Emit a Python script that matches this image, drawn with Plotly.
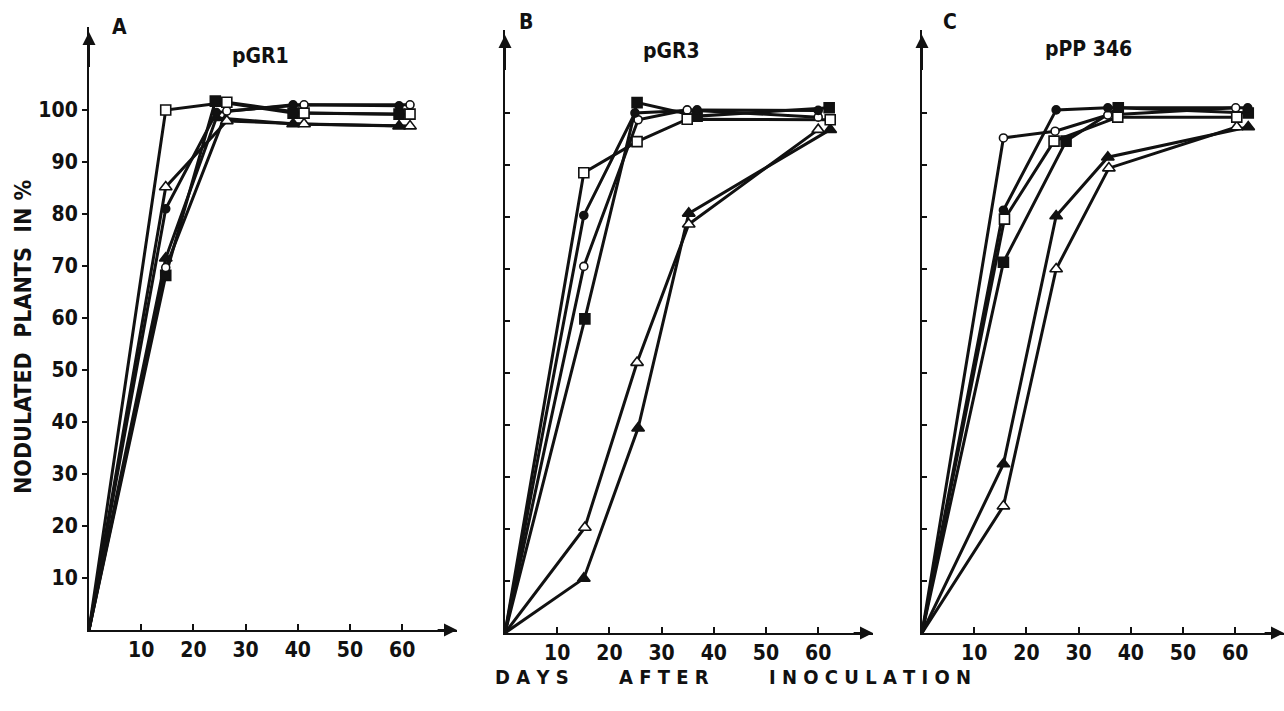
import plotly.graph_objects as go

# ---------------- data (days after inoculation, % nodulated plants) ----------------
# Panel A  (pGR1)
A_osq_x = [0, 14.7, 26.4, 41.2, 61.5]; A_osq_y = [0, 100, 101.5, 99.4, 99.2]
A_fsq_x = [0, 14.7, 24.2, 39.1, 59.4]; A_fsq_y = [0, 68.2, 101.7, 99.4, 99.2]
A_oci_x = [0, 14.7, 26.4, 41.2, 61.5]; A_oci_y = [0, 69.7, 99.8, 101.0, 101.0]
A_fci_x = [0, 14.7, 24.4, 39.1, 59.4]; A_fci_y = [0, 81.0, 99.5, 101.0, 100.8]
A_otr_x = [0, 14.7, 26.4, 41.2, 61.5]; A_otr_y = [0, 85.2, 97.9, 97.3, 96.9]
A_ftr_x = [0, 14.7, 24.4, 39.1, 59.4]; A_ftr_y = [0, 71.5, 98.5, 97.3, 96.9]

# Panel B  (pGR3)
B_osq_x = [0, 15.1, 25.3, 34.9, 62.3]; B_osq_y = [0, 88.5, 94.5, 98.8, 98.7]
B_fsq_x = [0, 15.3, 25.3, 36.8, 62.1]; B_fsq_y = [0, 60.4, 102.0, 99.4, 101.0]
B_oci_x = [0, 15.1, 25.5, 34.9, 60.0]; B_oci_y = [0, 70.5, 98.7, 100.6, 99.2]
B_fci_x = [0, 15.1, 24.9, 36.8, 60.0]; B_fci_y = [0, 80.3, 100.0, 100.6, 100.5]
B_otr_x = [0, 15.3, 25.3, 35.2, 60.0]; B_otr_y = [0, 20.3, 52.0, 78.6, 96.8]
B_ftr_x = [0, 15.1, 25.5, 35.2, 62.3]; B_ftr_y = [0, 10.5, 39.4, 80.7, 96.8]

# Panel C  (pPP 346)
C_osq_x = [0, 15.8, 25.3, 37.5, 60.3]; C_osq_y = [0, 79.6, 94.6, 99.2, 99.2]
C_fsq_x = [0, 15.6, 27.6, 37.6, 62.5]; C_fsq_y = [0, 71.3, 94.6, 101.0, 100.0]
C_oci_x = [0, 15.6, 25.5, 35.6, 60.1]; C_oci_y = [0, 95.2, 96.5, 99.6, 101.0]
C_fci_x = [0, 15.6, 25.7, 35.6, 62.4]; C_fci_y = [0, 81.3, 100.6, 101.0, 101.0]
C_otr_x = [0, 15.6, 25.7, 35.8, 60.3]; C_otr_y = [0, 24.4, 70.0, 89.4, 97.3]
C_ftr_x = [0, 15.6, 25.7, 35.6, 62.5]; C_ftr_y = [0, 32.5, 80.2, 91.5, 97.3]

x_ticks = [10, 20, 30, 40, 50, 60]
y_ticks = [10, 20, 30, 40, 50, 60, 70, 80, 90, 100]
panel_letters = ["A", "B", "C"]
panel_titles = ["pGR1", "pGR3", "pPP 346"]
y_title = "NODULATED\u00a0\u00a0PLANTS\u00a0\u00a0IN\u00a0%"
x_title_words = ["D\u00a0A\u00a0Y\u00a0S", "A\u00a0F\u00a0T\u00a0E\u00a0R",
                 "I\u00a0N\u00a0O\u00a0C\u00a0U\u00a0L\u00a0A\u00a0T\u00a0I\u00a0O\u00a0N"]

# ---------------- styling ----------------
W, H = 1284, 711
FONT = "Liberation Sans Narrow, DejaVu Sans Condensed, Arial Narrow, sans-serif"
BLACK = "#111111"

styles = {
    "osq": dict(symbol="square", color="white", size=10),
    "fsq": dict(symbol="square", color=BLACK, size=10),
    "oci": dict(symbol="circle", color="white", size=8),
    "fci": dict(symbol="circle", color=BLACK, size=8),
    "otr": dict(symbol="triangle-up", color="white", size=11),
    "ftr": dict(symbol="triangle-up", color=BLACK, size=11),
}

panels = [
    ("x", "y", {"osq": (A_osq_x, A_osq_y), "fsq": (A_fsq_x, A_fsq_y), "oci": (A_oci_x, A_oci_y),
                "fci": (A_fci_x, A_fci_y), "otr": (A_otr_x, A_otr_y), "ftr": (A_ftr_x, A_ftr_y)}),
    ("x2", "y2", {"osq": (B_osq_x, B_osq_y), "fsq": (B_fsq_x, B_fsq_y), "oci": (B_oci_x, B_oci_y),
                  "fci": (B_fci_x, B_fci_y), "otr": (B_otr_x, B_otr_y), "ftr": (B_ftr_x, B_ftr_y)}),
    ("x3", "y3", {"osq": (C_osq_x, C_osq_y), "fsq": (C_fsq_x, C_fsq_y), "oci": (C_oci_x, C_oci_y),
                  "fci": (C_fci_x, C_fci_y), "otr": (C_otr_x, C_otr_y), "ftr": (C_ftr_x, C_ftr_y)}),
]

fig = go.Figure()
order = ["otr", "ftr", "fsq", "oci", "fci", "osq"]
for xa, ya, series in panels:
    for key in order:
        xs, ys = series[key]
        fig.add_trace(go.Scatter(
            x=xs, y=ys, xaxis=xa, yaxis=ya, mode="lines",
            line=dict(color=BLACK, width=3), showlegend=False, hoverinfo="skip"))
    for key in order:
        xs, ys = series[key]
        st = styles[key]
        fig.add_trace(go.Scatter(
            x=xs[1:], y=ys[1:], xaxis=xa, yaxis=ya, mode="markers", cliponaxis=False,
            marker=dict(symbol=st["symbol"], size=st["size"], color=st["color"],
                        line=dict(color=BLACK, width=1.6)),
            showlegend=False, hoverinfo="skip"))

# pixel geometry of each panel: (origin x px, origin y px, px per day, px per %)
geo = [(89, 630, 5.22, 5.2), (505, 633, 5.22, 5.2), (922, 633, 5.22, 5.2)]
x_max = [70.5, 70.5, (W - 922) / 5.22]
y_max = 116

layout = dict(width=W, height=H, margin=dict(l=0, r=0, t=0, b=0),
              paper_bgcolor="white", plot_bgcolor="white", showlegend=False)
annotations = []
for i, ((ox, oy, sx, sy), xm) in enumerate(zip(geo, x_max)):
    n = "" if i == 0 else str(i + 1)
    x0 = ox / W
    x1 = min(1.0, (ox + xm * sx) / W)
    y0 = (H - oy) / H
    y1 = (H - (oy - y_max * sy)) / H
    layout["xaxis" + n] = dict(
        domain=[x0, x1], range=[0, xm], anchor="y" + n,
        showline=True, linecolor=BLACK, linewidth=2, showgrid=False, zeroline=False,
        tickmode="array", tickvals=x_ticks, ticks="inside", ticklen=6, tickwidth=2,
        tickcolor=BLACK, tickfont=dict(family=FONT, size=21, color=BLACK, weight="bold"))
    layout["yaxis" + n] = dict(
        domain=[y0, y1], range=[0, y_max], anchor="x" + n,
        showline=True, linecolor=BLACK, linewidth=2, showgrid=False, zeroline=False,
        tickmode="array", tickvals=y_ticks, ticks="outside" if i == 0 else "inside",
        ticklen=5, tickwidth=2, tickcolor=BLACK, showticklabels=(i == 0),
        tickfont=dict(family=FONT, size=21, color=BLACK, weight="bold"))
    # arrow heads at axis ends
    annotations.append(dict(x=xm, y=0, ax=xm - 4, ay=0, xref="x" + n, yref="y" + n,
                            axref="x" + n, ayref="y" + n, text="", showarrow=True,
                            arrowhead=2, arrowsize=1.3, arrowwidth=2, arrowcolor=BLACK))
    annotations.append(dict(x=0, y=y_max - 1, ax=0, ay=y_max - 8, xref="x" + n, yref="y" + n,
                            axref="x" + n, ayref="y" + n, text="", showarrow=True,
                            arrowhead=2, arrowsize=1.3, arrowwidth=2, arrowcolor=BLACK))


def paper_text(px, py, text, size, angle=0):
    return dict(x=px / W, y=(H - py) / H, xref="paper", yref="paper", text=text,
                xanchor="center", yanchor="middle", textangle=angle, showarrow=False,
                font=dict(family=FONT, size=size, color=BLACK, weight="bold"))


letter_pos = [(119, 27), (526, 22), (950, 22)]
title_pos = [(260, 56), (672, 51), (1088, 49)]
for (lx, ly), (tx, ty), lt, tt in zip(letter_pos, title_pos, panel_letters, panel_titles):
    annotations.append(paper_text(lx, ly, lt, 21))
    annotations.append(paper_text(tx, ty, tt, 21))

annotations.append(paper_text(23, 337, y_title, 23, angle=-90))
for word, cx in zip(x_title_words, [532, 664, 870]):
    annotations.append(paper_text(cx, 677, word, 20))

layout["annotations"] = annotations
fig.update_layout(**layout)
fig.write_html("out.html", config={"displayModeBar": False},
               post_script="document.body.style.margin='0';document.body.style.overflow='hidden';"
                           "window.dispatchEvent(new Event('resize'));")
